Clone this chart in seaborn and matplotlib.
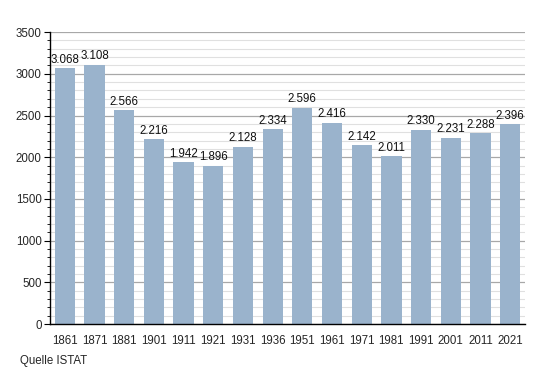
import matplotlib
matplotlib.use("Agg")
import matplotlib.pyplot as plt
import seaborn as sns
import pandas as pd
from matplotlib.ticker import MultipleLocator

years = ["1861", "1871", "1881", "1901", "1911", "1921", "1931", "1936",
         "1951", "1961", "1971", "1981", "1991", "2001", "2011", "2021"]
population = [3068, 3108, 2566, 2216, 1942, 1896, 2128, 2334,
              2596, 2416, 2142, 2011, 2330, 2231, 2288, 2396]

df = pd.DataFrame({"year": years, "pop": population})

sns.set_theme(style="white")
plt.rcParams['font.family'] = ['Liberation Sans', 'DejaVu Sans']

fig = plt.figure(figsize=(5.55, 3.73), dpi=100)
ax = fig.add_axes([0.090, 0.131, 0.856, 0.783])

ax.yaxis.set_major_locator(MultipleLocator(500))
ax.yaxis.set_minor_locator(MultipleLocator(100))
ax.grid(which="major", axis="y", color="#a8a8a8", linewidth=0.9)
ax.grid(which="minor", axis="y", color="#e0e0e0", linewidth=0.8)
ax.set_axisbelow(True)

sns.barplot(data=df, x="year", y="pop", color="#9ab3cc", saturation=1,
            width=0.68, linewidth=0, ax=ax, zorder=2)

for i, v in enumerate(population):
    ax.text(i, v + 30, f"{v:,}".replace(",", "."), ha="center", va="bottom",
            fontsize=8.3, color="#111111")

ax.set_ylim(0, 3500)
ax.set_xlim(-0.5, len(years) - 0.5)
ax.set_xlabel("")
ax.set_ylabel("")
for s in ["top", "right"]:
    ax.spines[s].set_visible(False)
for s in ["left", "bottom"]:
    ax.spines[s].set_color("black")
    ax.spines[s].set_linewidth(1.0)

ax.tick_params(axis="y", which="major", left=True, length=4, width=0.8,
               labelsize=8.3, pad=2, color="black")
ax.tick_params(axis="y", which="minor", left=True, length=2, width=0.6, color="black")
ax.tick_params(axis="x", bottom=False, labelsize=8.3, pad=2)

fig.text(0.036, 0.015, "Quelle ISTAT", fontsize=8.3, ha="left", va="bottom")

fig.savefig("out.png", dpi=100)
